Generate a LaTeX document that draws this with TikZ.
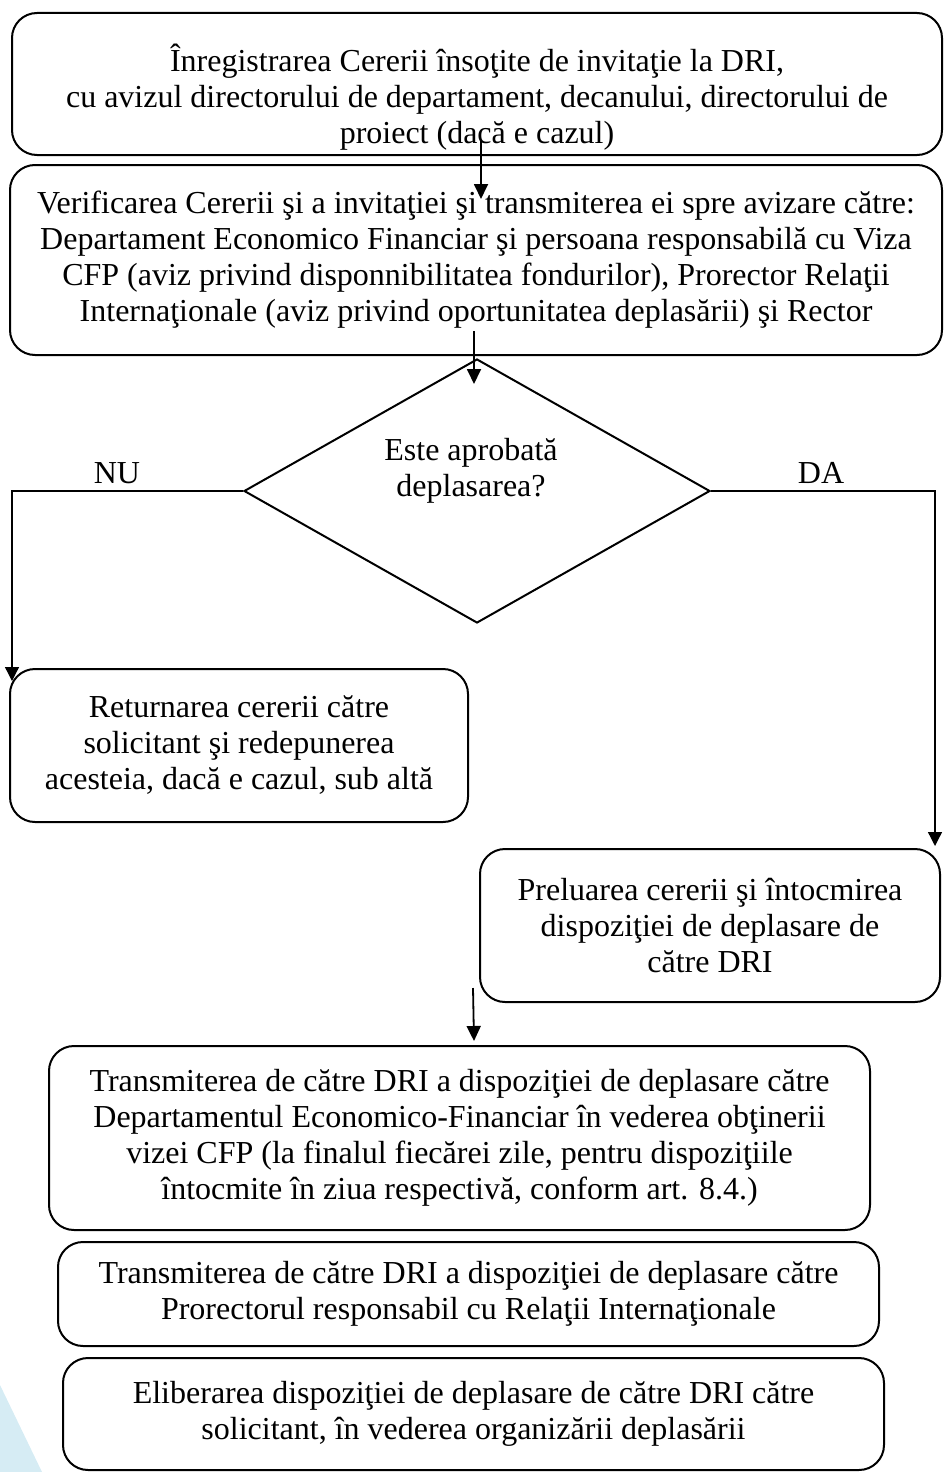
\documentclass[tikz,border=0pt]{standalone}
\usepackage{fontspec}
\setmainfont{Liberation Serif}
\usetikzlibrary{shapes.geometric,arrows.meta}
\definecolor{decoblue}{RGB}{214,236,244}
\tikzset{
  fs/.style={font=\fontsize{32}{36}\selectfont},
  stepbox/.style={draw, line width=2pt, rounded corners=25pt, align=center, inner sep=0pt, fs},
  txt/.style={align=center, inner sep=0pt, fs},
  decision/.style={draw, diamond, line width=2pt, inner sep=0pt, shape aspect=1.77},
  arr/.style={line width=1.8pt, -{Triangle[width=14pt,length=15pt]}},
  thinarr/.style={line width=1.3pt, -{Triangle[width=14pt,length=14pt]}}
}
\begin{document}
\begin{tikzpicture}[x=1pt,y=-1pt]
\useasboundingbox (0,0) rectangle (944,1472);
\fill[decoblue] (0,1385) -- (42,1472) -- (0,1472) -- cycle;

\node[stepbox, minimum width=930pt, minimum height=142pt] (b1) at (477,84) {};
\node[txt] (t1) at (477,97) {Înregistrarea Cererii însoţite de invitaţie la DRI,\\cu avizul directorului de departament, decanului, directorului de\\proiect (dacă e cazul)};

\node[stepbox, minimum width=932pt, minimum height=190pt] (b2) at (476,260) {Verificarea Cererii şi a invitaţiei şi transmiterea ei spre avizare către:\\Departament Economico Financiar şi persoana responsabilă cu Viza\\CFP (aviz privind disponnibilitatea fondurilor), Prorector Relaţii\\Internaţionale (aviz privind oportunitatea deplasării) şi Rector};

\node[decision, minimum width=466pt, minimum height=264pt] (d) at (477,491) {};
\node[txt] (dt) at (471,471) {Este aprobată\\deplasarea?};

\node[txt] (nu) at (117,473) {NU};
\node[txt] (da) at (821,473) {DA};

\node[stepbox, minimum width=458pt, minimum height=153pt] (bL) at (239,745.5) {Returnarea cererii către\\solicitant şi redepunerea\\acesteia, dacă e cazul, sub altă};

\node[stepbox, minimum width=460pt, minimum height=153pt] (bR) at (710,925.5) {Preluarea cererii şi întocmirea\\dispoziţiei de deplasare de\\către DRI};

\node[stepbox, minimum width=821pt, minimum height=184pt] (b5) at (459.5,1138) {Transmiterea de către DRI a dispoziţiei de deplasare către\\Departamentul Economico-Financiar în vederea obţinerii\\vizei CFP (la finalul fiecărei zile, pentru dispoziţiile\\întocmite în ziua respectivă, conform art. 8.4.)};

\node[stepbox, minimum width=821pt, minimum height=104pt] (b6) at (468.5,1294) {Transmiterea de către DRI a dispoziţiei de deplasare către\\Prorectorul responsabil cu Relaţii Internaţionale};

\node[stepbox, minimum width=821pt, minimum height=112pt] (b7) at (473.5,1414) {Eliberarea dispoziţiei de deplasare de către DRI către\\solicitant, în vederea organizării deplasării};

\draw[arr] ([xshift=4pt,yshift=15pt]b1.south) -- ([xshift=5pt,yshift=-35pt]b2.north);
\draw[arr] ([xshift=-2pt,yshift=25pt]b2.south) -- ([xshift=-3pt,yshift=-26pt]d.north);
\draw[thinarr] (d.west) -| ([xshift=3pt,yshift=-13pt]bL.north west);
\draw[thinarr] (d.east) -| ([xshift=-6pt,yshift=2pt]bR.north east);
\draw[arr] ([xshift=-6pt,yshift=15pt]bR.south west) -- ([xshift=14.5pt,yshift=4pt]b5.north);
\end{tikzpicture}
\end{document}
